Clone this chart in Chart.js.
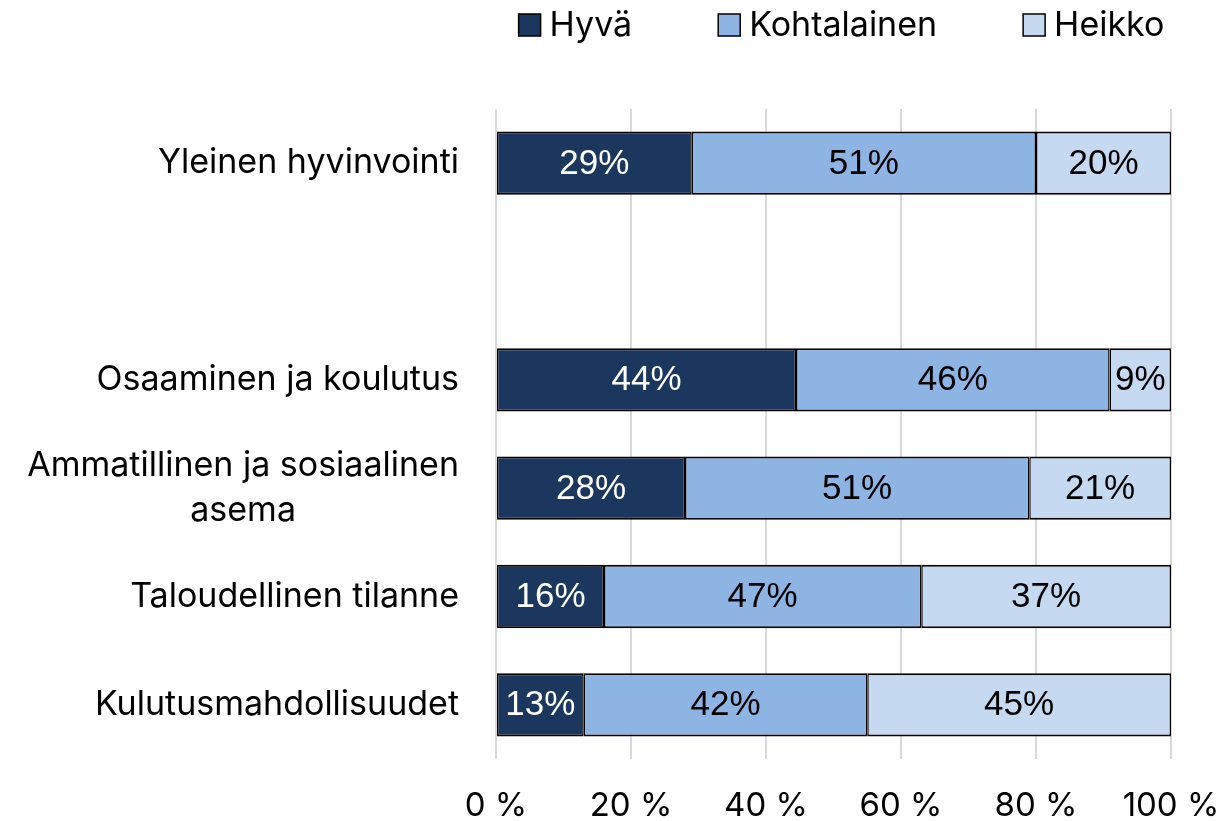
<!DOCTYPE html>
<html><head><meta charset="utf-8">
<script src="https://cdn.jsdelivr.net/npm/chart.js@4/dist/chart.umd.min.js"></script>
<style>html,body{margin:0;padding:0;background:#fff}#wrap{width:1222px;height:821px;position:relative}</style>
</head><body><div id="wrap"><canvas id="c"></canvas></div>
<script>
const categories = ['Yleinen hyvinvointi', '', 'Osaaminen ja koulutus', ['Ammatillinen ja sosiaalinen', 'asema'], 'Taloudellinen tilanne', 'Kulutusmahdollisuudet'];
const seriesNames = ['Hyvä', 'Kohtalainen', 'Heikko'];
const hyva = [29, null, 44, 28, 16, 13];
const kohtalainen = [51, null, 46, 51, 47, 42];
const heikko = [20, null, 9, 21, 37, 45];
const xTicks = [0, 20, 40, 60, 80, 100];

const colors = ['#1c375e', '#8db4e2', '#c5d9f1'];
const labelColors = ['#ffffff', '#000000', '#000000'];
const FONT = 'Inter, "DejaVu Sans", sans-serif';

const raw = [hyva, kohtalainen, heikko];
const totals = categories.map((_, i) => raw.reduce((s, a) => s + (a[i] || 0), 0));
const share = arr => arr.map((v, i) => v == null ? null : v / totals[i] * 100);

const customPlugin = {
  id: 'custom',
  afterDatasetsDraw(chart) {
    const ctx = chart.ctx;
    ctx.save();
    ctx.font = '35px "Liberation Sans", Arial, sans-serif';
    ctx.textAlign = 'center';
    ctx.textBaseline = 'middle';
    chart.data.datasets.forEach((ds, di) => {
      const meta = chart.getDatasetMeta(di);
      meta.data.forEach((el, i) => {
        const v = ds.rawValues[i];
        if (v == null) return;
        ctx.fillStyle = labelColors[di];
        ctx.fillText(v + '%', (el.x + el.base) / 2, el.y + 1);
      });
    });
    ctx.restore();
  },
  afterDraw(chart) {
    const ctx = chart.ctx;
    const area = chart.chartArea;
    const ys = chart.scales.y;
    ctx.save();
    ctx.font = '34px ' + FONT;
    ctx.fillStyle = '#000';
    ctx.textBaseline = 'middle';
    ctx.textAlign = 'center';
    const right = area.left - 37;
    const lh = 45;
    categories.forEach((c, i) => {
      const lines = Array.isArray(c) ? c : [c];
      const w = Math.max(...lines.map(l => ctx.measureText(l).width));
      const cy = ys.getPixelForValue(i);
      lines.forEach((l, k) => ctx.fillText(l, right - w / 2, cy + (k - (lines.length - 1) / 2) * lh));
    });
    // legend
    ctx.font = '34px ' + FONT;
    ctx.textAlign = 'left';
    const box = 22, gap = 9, spacing = 86;
    const dsets = chart.data.datasets;
    const widths = dsets.map(ds => box + gap + ctx.measureText(ds.label).width);
    const total = widths.reduce((a, b) => a + b, 0) + spacing * (dsets.length - 1);
    let x = (area.left + area.right) / 2 + 8 - total / 2;
    const ly = 25;
    dsets.forEach((ds, di) => {
      ctx.fillStyle = ds.backgroundColor;
      ctx.fillRect(x, ly - box / 2, box, box);
      ctx.strokeStyle = '#000';
      ctx.lineWidth = 1.5;
      ctx.strokeRect(x, ly - box / 2, box, box);
      ctx.fillStyle = '#000';
      ctx.fillText(ds.label, x + box + gap, ly + 1);
      x += widths[di] + spacing;
    });
    ctx.restore();
  }
};

new Chart(document.getElementById('c'), {
  type: 'bar',
  data: {
    labels: categories,
    datasets: raw.map((arr, di) => ({
      label: seriesNames[di],
      data: share(arr),
      rawValues: arr,
      backgroundColor: colors[di],
      borderColor: '#000',
      borderWidth: {top: 2, bottom: 2, left: 1.5, right: 1.5},
      borderSkipped: false,
      barPercentage: 0.585,
      categoryPercentage: 1
    }))
  },
  options: {
    indexAxis: 'y',
    responsive: true,
    maintainAspectRatio: false,
    animation: false,
    layout: {padding: {top: 109, right: 51, bottom: 0, left: 0}},
    plugins: {legend: {display: false}, tooltip: {enabled: false}},
    scales: {
      x: {
        stacked: true, min: 0, max: 100,
        afterBuildTicks: s => { s.ticks = xTicks.map(v => ({value: v})); },
        grid: {color: '#d9d9d9', lineWidth: 2, drawTicks: false},
        border: {display: false},
        ticks: {callback: v => v + ' %', font: {family: FONT, size: 33}, color: '#000', padding: 27, maxRotation: 0},
        afterFit: s => { s.height = 62; s.paddingLeft = 0; s.paddingRight = 0; }
      },
      y: {
        stacked: true,
        grid: {display: false},
        border: {display: false},
        ticks: {display: false},
        afterFit: s => { s.width = 496; }
      }
    }
  },
  plugins: [customPlugin]
});
</script>
</body></html>
